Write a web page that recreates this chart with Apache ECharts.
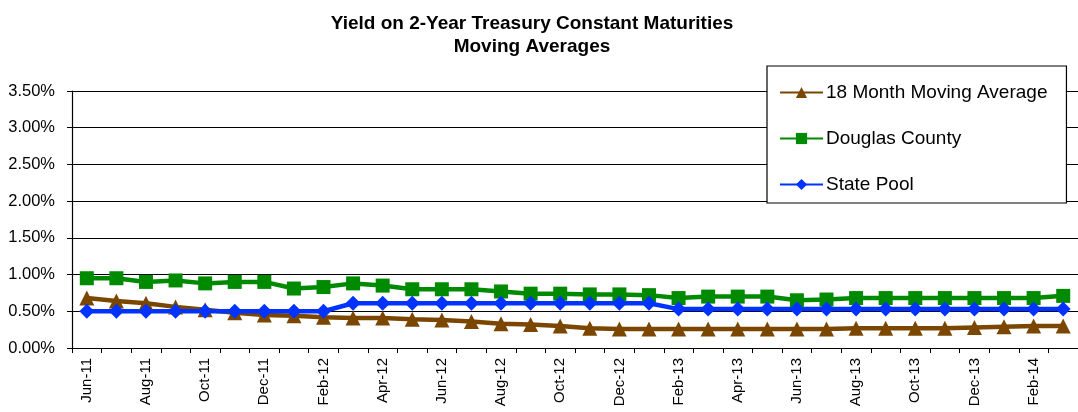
<!DOCTYPE html>
<html><head><meta charset="utf-8">
<script src="https://cdn.jsdelivr.net/npm/echarts@6/dist/echarts.min.js"></script>
<style>html,body{margin:0;padding:0;background:#fff;}#c{width:1078px;height:412px;}</style>
</head><body><div id="c"></div>
<script>
const categories = ['Jun-11','Jul-11','Aug-11','Sep-11','Oct-11','Nov-11','Dec-11','Jan-12','Feb-12','Mar-12','Apr-12','May-12',
  'Jun-12','Jul-12','Aug-12','Sep-12','Oct-12','Nov-12','Dec-12','Jan-13','Feb-13','Mar-13','Apr-13','May-13',
  'Jun-13','Jul-13','Aug-13','Sep-13','Oct-13','Nov-13','Dec-13','Jan-14','Feb-14','Mar-14'];
const movingAvg = [0.68,0.64,0.61,0.56,0.52,0.48,0.45,0.44,0.42,0.41,0.41,0.39,
  0.38,0.36,0.33,0.32,0.30,0.27,0.26,0.26,0.26,0.26,0.26,0.26,
  0.26,0.26,0.27,0.27,0.27,0.27,0.28,0.29,0.30,0.30];
const douglas = [0.95,0.95,0.90,0.92,0.88,0.90,0.90,0.81,0.83,0.88,0.85,0.80,
  0.80,0.80,0.77,0.74,0.74,0.73,0.73,0.72,0.68,0.70,0.70,0.70,
  0.65,0.66,0.68,0.68,0.68,0.68,0.68,0.68,0.68,0.71];
const statePool = [0.50,0.50,0.50,0.50,0.50,0.50,0.50,0.50,0.50,0.61,0.61,0.61,
  0.61,0.61,0.61,0.61,0.61,0.61,0.61,0.61,0.53,0.53,0.53,0.53,
  0.53,0.53,0.53,0.53,0.53,0.53,0.53,0.53,0.53,0.53];
const yTicks = [0,0.5,1,1.5,2,2.5,3,3.5];

const chart = echarts.init(document.getElementById('c'));
const font = 'Liberation Sans, Arial, sans-serif';
function mk(name, data, color, symbol, size){
  return {name, type:'line', data, symbol, symbolSize:size, showSymbol:true,
    lineStyle:{color, width:4.5}, itemStyle:{color, borderWidth:0}, animation:false, z: 3};
}
chart.setOption({
  animation:false,
  title:{text:'Yield on 2-Year Treasury Constant Maturities\nMoving Averages', left:527, top:7, textAlign:'center',
    textStyle:{fontFamily:font, fontSize:19, fontWeight:'bold', color:'#000', lineHeight:23}},
  legend:{orient:'vertical', left:767, top:66, padding:[17,19,9,12], itemGap:27,
    backgroundColor:'#fff', borderColor:'#000', borderWidth:1.2,
    itemWidth:43, itemHeight:14, textStyle:{fontFamily:font, fontSize:19, color:'#000', padding:[0,0,0,-2]},
    data:['18 Month Moving Average','Douglas County','State Pool']},
  grid:{left:72, top:91, width:1015, height:257, containLabel:false},
  xAxis:{type:'category', data:categories, boundaryGap:true,
    axisLine:{lineStyle:{color:'#000', width:1.2}},
    axisTick:{show:true, length:5, interval:0, lineStyle:{color:'#000'}},
    axisLabel:{rotate:90, interval:1, fontFamily:font, fontSize:15, color:'#000', margin:10}},
  yAxis:{type:'value', min:0, max:3.5, interval:0.5,
    axisLine:{show:true, lineStyle:{color:'#000', width:1.2}},
    axisTick:{show:true, length:5, inside:false, lineStyle:{color:'#000'}},
    splitLine:{lineStyle:{color:'#000', width:1}},
    axisLabel:{fontFamily:font, fontSize:16.5, color:'#000', margin:17,
      formatter:v=>v.toFixed(2)+'%'}},
  series:[
    mk('18 Month Moving Average', movingAvg, '#7a4600', 'triangle', 15),
    mk('Douglas County', douglas, '#008a00', 'rect', 14),
    mk('State Pool', statePool, '#0033ff', 'diamond', 15)
  ]
});
</script></body></html>
